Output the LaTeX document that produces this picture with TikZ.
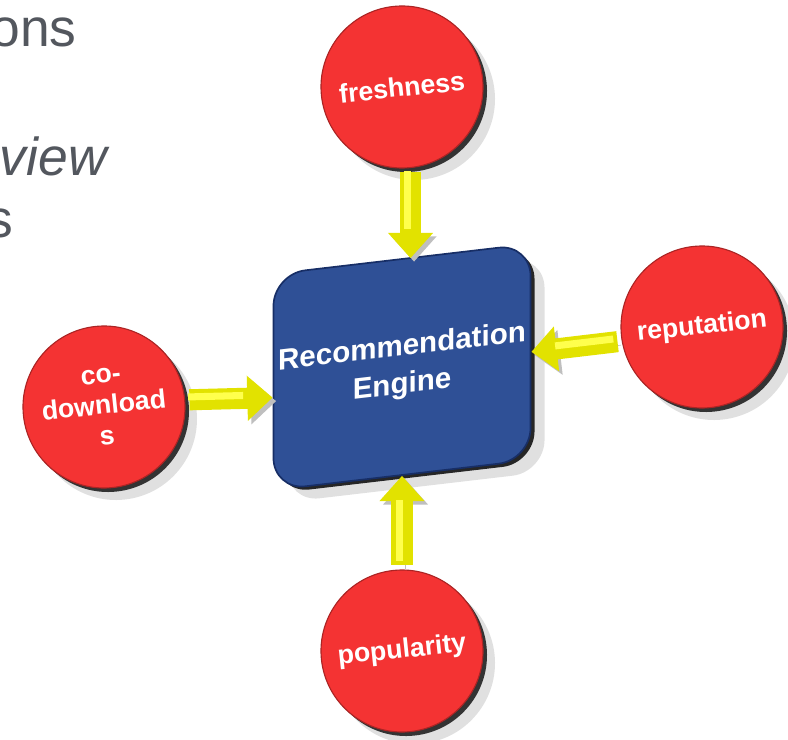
\documentclass[tikz,border=0pt]{standalone}
\usepackage{fontspec}
\setmainfont{Liberation Sans}
\usetikzlibrary{arrows.meta,shadows}
\definecolor{discred}{HTML}{F43333}
\definecolor{engineblue}{HTML}{2F5096}
\definecolor{engineedge}{HTML}{172E66}
\definecolor{arrowyellow}{HTML}{E2E200}
\definecolor{arrowlight}{HTML}{FFFF4D}
\definecolor{slidegray}{HTML}{53575E}

\begin{document}
\begin{tikzpicture}
			\tikzstyle{engine} = [draw=engineedge, line width=1.2pt, fill=engineblue, rounded corners=0.8cm,
				minimum width=6.35cm, minimum height=5.4cm, yslant=0.117,
				align=center, text=white, font=\fontsize{21}{27}\selectfont\bfseries,
				general shadow={fill=black!20, opacity=0.6, shadow xshift=0.35cm, shadow yshift=-0.3cm},
				general shadow={fill=black!85, shadow xshift=0.1cm, shadow yshift=-0.08cm}]
			\tikzstyle{disc} = [circle, fill=discred, draw=discred!70!black, line width=0.8pt, minimum size=4.05cm,
				align=center, text=white, font=\fontsize{19}{22}\selectfont\bfseries,
				general shadow={fill=black!20, opacity=0.6, shadow xshift=0.3cm, shadow yshift=-0.3cm},
				general shadow={fill=black!80, shadow xshift=0.1cm, shadow yshift=-0.1cm}]
			\tikzstyle{slidetext} = [text=slidegray, inner sep=0pt, anchor=base east, font=\fontsize{38}{46}\selectfont]
			\tikzstyle{line} = [draw=arrowyellow, line width=15pt, -{Triangle[length=18pt, width=31pt]}, shorten <=3pt,
				preaction={draw=black!25, transform canvas={shift={(2.5pt,-2.5pt)}}},
				postaction={draw=arrowlight, line width=5pt, -, shorten >=19pt, shorten <=4pt,
					transform canvas={shift={(-2pt,2pt)}}}]

			\useasboundingbox (-10.05,-9.3) rectangle (9.65,9.175);
			\clip (-10.05,-9.3) rectangle (9.65,9.175);

			% cut-off slide text
			\node(ons)[slidetext] at (-8.125,8.0) {ons};
			\node(view)[slidetext] at (-7.375,4.775) {\itshape view};
			\node(s)[slidetext] at (-9.725,3.225) {s};

			\node(engine)[engine] at (0,0) {Recommendation\\Engine};

			\tikzset{node distance = 70mm}
			\node(freshness)[disc, above of = engine, rotate=6] {freshness};
			\tikzset{node distance = 71mm}
			\node(popularity)[disc, below of = engine, rotate=6] {popularity};
			\tikzset{node distance = 75mm}
			\node(reputation)[disc, right of = engine, yshift=1cm, rotate=6] {reputation};
			\tikzset{node distance = 74.5mm}
			\node(codownloads)[disc, left of = engine, yshift=-1cm, rotate=6] {co-\\download\\s};

			\draw[line] (freshness.south) -- (freshness.south |- engine.north);
			\draw[line] (popularity.84) -- (popularity.84 |- engine.south);
			\draw[line] (reputation.184) -- (engine.east);
			\draw[line] (codownloads.359) -- ([yshift=-11pt]engine.west);
		\end{tikzpicture}
\end{document}
